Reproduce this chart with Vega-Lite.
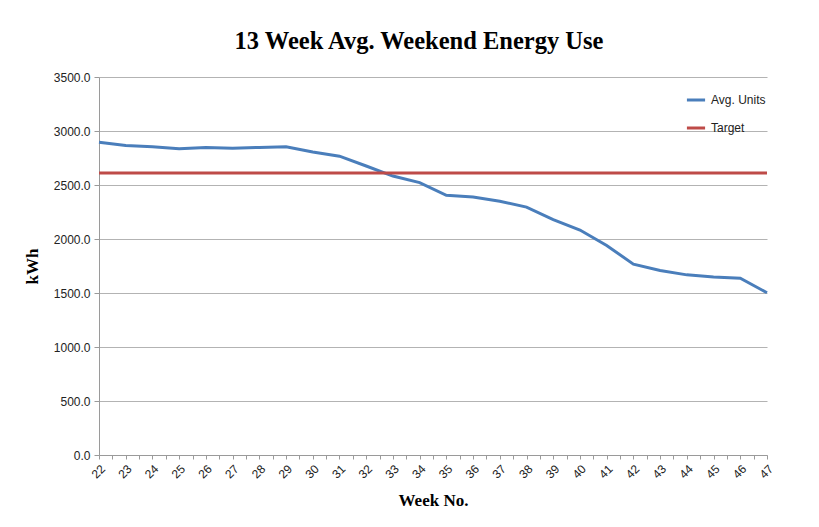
{
  "$schema": "https://vega.github.io/schema/vega-lite/v6.json",
  "width": 668,
  "height": 378,
  "autosize": {"type": "none"},
  "padding": {"left": 99, "top": 77, "right": 52, "bottom": 72},
  "background": "white",
  "title": {
    "text": "13 Week Avg. Weekend Energy Use",
    "font": "Liberation Serif",
    "fontSize": 24.5,
    "fontWeight": "bold",
    "color": "#000000",
    "anchor": "middle",
    "offset": 17,
    "dx": -14
  },
  "data": {
    "values": [
      {"week": 22, "series": "Avg. Units", "kwh": 2895},
      {"week": 23, "series": "Avg. Units", "kwh": 2866},
      {"week": 24, "series": "Avg. Units", "kwh": 2855},
      {"week": 25, "series": "Avg. Units", "kwh": 2836},
      {"week": 26, "series": "Avg. Units", "kwh": 2847},
      {"week": 27, "series": "Avg. Units", "kwh": 2841},
      {"week": 28, "series": "Avg. Units", "kwh": 2848},
      {"week": 29, "series": "Avg. Units", "kwh": 2855},
      {"week": 30, "series": "Avg. Units", "kwh": 2806},
      {"week": 31, "series": "Avg. Units", "kwh": 2767},
      {"week": 32, "series": "Avg. Units", "kwh": 2676},
      {"week": 33, "series": "Avg. Units", "kwh": 2583},
      {"week": 34, "series": "Avg. Units", "kwh": 2522},
      {"week": 35, "series": "Avg. Units", "kwh": 2404},
      {"week": 36, "series": "Avg. Units", "kwh": 2388},
      {"week": 37, "series": "Avg. Units", "kwh": 2350},
      {"week": 38, "series": "Avg. Units", "kwh": 2295},
      {"week": 39, "series": "Avg. Units", "kwh": 2180},
      {"week": 40, "series": "Avg. Units", "kwh": 2083},
      {"week": 41, "series": "Avg. Units", "kwh": 1940},
      {"week": 42, "series": "Avg. Units", "kwh": 1767},
      {"week": 43, "series": "Avg. Units", "kwh": 1708},
      {"week": 44, "series": "Avg. Units", "kwh": 1668},
      {"week": 45, "series": "Avg. Units", "kwh": 1648},
      {"week": 46, "series": "Avg. Units", "kwh": 1637},
      {"week": 47, "series": "Avg. Units", "kwh": 1502},
      {"week": 22, "series": "Target", "kwh": 2610},
      {"week": 47, "series": "Target", "kwh": 2610}
    ]
  },
  "mark": {"type": "line", "strokeWidth": 3},
  "encoding": {
    "x": {
      "field": "week",
      "type": "quantitative",
      "scale": {"domain": [22, 47], "nice": false, "zero": false},
      "axis": {
        "title": "Week  No.",
        "titleFont": "Liberation Serif",
        "titleFontSize": 17,
        "titleFontWeight": "bold",
        "titleColor": "#000000",
        "titlePadding": 12,
        "values": [22,22.5,23,23.5,24,24.5,25,25.5,26,26.5,27,27.5,28,28.5,29,29.5,30,30.5,31,31.5,32,32.5,33,33.5,34,34.5,35,35.5,36,36.5,37,37.5,38,38.5,39,39.5,40,40.5,41,41.5,42,42.5,43,43.5,44,44.5,45,45.5,46,46.5,47],
        "labelExpr": "datum.value % 1 == 0 ? format(datum.value, 'd') : ''",
        "labelAngle": -45,
        "labelFont": "Liberation Sans",
        "labelFontSize": 12,
        "labelColor": "#222222",
        "labelPadding": 4,
        "grid": false,
        "domainColor": "#9a9a9a",
        "tickColor": "#9a9a9a",
        "tickSize": 4
      }
    },
    "y": {
      "field": "kwh",
      "type": "quantitative",
      "scale": {"domain": [0, 3500], "nice": false},
      "axis": {
        "title": "kWh",
        "titleFont": "Liberation Serif",
        "titleFontSize": 17,
        "titleFontWeight": "bold",
        "titleColor": "#000000",
        "titlePadding": 12,
        "values": [0, 500, 1000, 1500, 2000, 2500, 3000, 3500],
        "format": ".1f",
        "labelFont": "Liberation Sans",
        "labelFontSize": 12,
        "labelColor": "#222222",
        "labelPadding": 4,
        "gridColor": "#b3b3b3",
        "gridWidth": 1,
        "domainColor": "#9a9a9a",
        "tickColor": "#9a9a9a",
        "tickSize": 5
      }
    },
    "color": {
      "field": "series",
      "type": "nominal",
      "scale": {"domain": ["Avg. Units", "Target"], "range": ["#4a7ebb", "#be4b48"]},
      "legend": {
        "title": null,
        "orient": "none",
        "legendX": 586,
        "legendY": 12,
        "symbolType": "stroke",
        "symbolSize": 330,
        "symbolStrokeWidth": 3,
        "labelFont": "Liberation Sans",
        "labelFontSize": 12,
        "labelColor": "#222222",
        "labelOffset": 4,
        "rowPadding": 11
      }
    }
  },
  "config": {
    "view": {"stroke": null}
  }
}
